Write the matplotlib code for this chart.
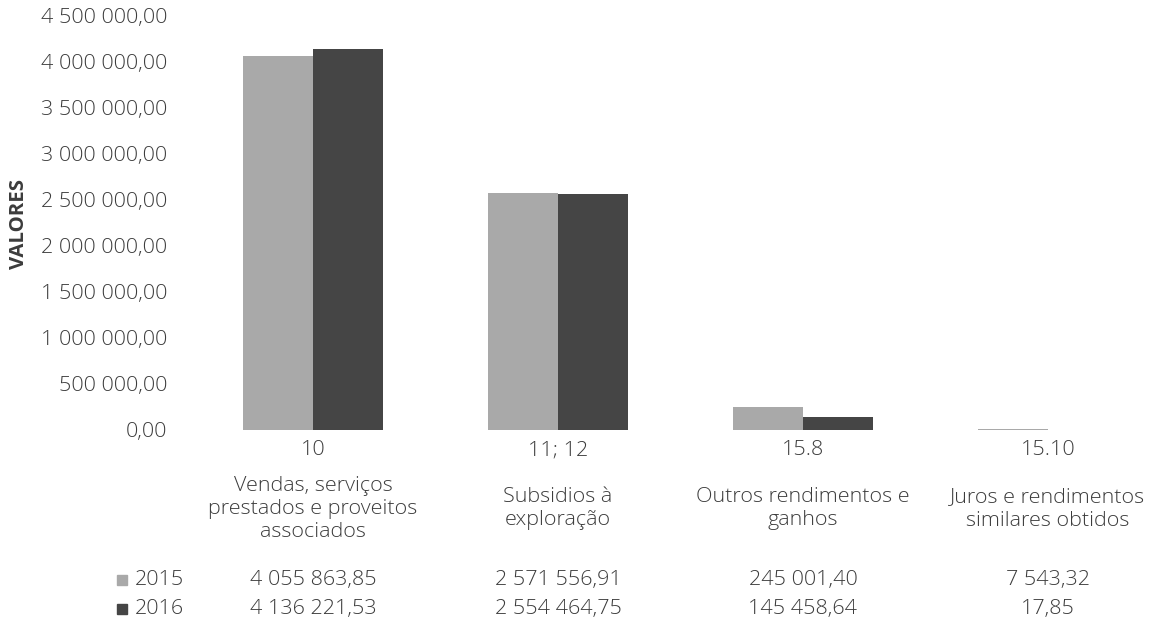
import matplotlib
matplotlib.use("Agg")
import matplotlib.pyplot as plt
import numpy as np
from matplotlib.patches import Rectangle

codes = ["10", "11; 12", "15.8", "15.10"]
descriptions = [
    "Vendas, serviços\nprestados e proveitos\nassociados",
    "Subsidios à\nexploração",
    "Outros rendimentos e\nganhos",
    "Juros e rendimentos\nsimilares obtidos",
]
series_names = ["2015", "2016"]
values_2015 = [4055863.85, 2571556.91, 245001.40, 7543.32]
values_2016 = [4136221.53, 2554464.75, 145458.64, 17.85]
y_ticks = [0, 500000, 1000000, 1500000, 2000000, 2500000, 3000000, 3500000, 4000000, 4500000]

colors = ["#a9a9a9", "#454545"]
text_color = "#3c3c3c"
plt.rcParams["font.family"] = ["Open Sans", "DejaVu Sans"]

W, H = 1156, 634


def fmt(v):
    s = f"{v:,.2f}"
    return s.replace(",", " ").replace(".", ",")


fig = plt.figure(figsize=(W / 100, H / 100), dpi=100)
renderer = fig.canvas.get_renderer()

# pick a font size so that a wide description line spans about 208 px
probe = fig.text(0, 0, "prestados e proveitos", fontsize=10, fontweight="light")
w10 = probe.get_window_extent(renderer).width
probe.remove()
FS = 10 * 208 / w10

# category pitch 245 px, first category centred at x = 313 px
pitch = 245.0
left_px = 313 - pitch / 2
ax = fig.add_axes([left_px / W, (H - 430) / H, (W - left_px) / W, 415 / H])

x = np.arange(len(codes))
bw = 70 / pitch
ax.bar(x - bw / 2, values_2015, width=bw, color=colors[0], linewidth=0)
ax.bar(x + bw / 2, values_2016, width=bw, color=colors[1], linewidth=0)

ax.set_xlim(-0.5, -0.5 + (W - left_px) / pitch)
ax.set_ylim(0, 4500000)
ax.set_yticks(y_ticks)
ax.set_yticklabels([fmt(v) for v in y_ticks], fontsize=FS, color=text_color,
                   fontweight="light")
ax.set_xticks(x)
ax.set_xticklabels(codes, fontsize=FS, color=text_color, fontweight="light")
ax.tick_params(axis="y", length=0, pad=(left_px - 167) * 0.72)
ax.tick_params(axis="x", length=0, pad=7.5)
for s in ax.spines.values():
    s.set_visible(False)

fig.text(19 / W, 1 - 224 / H, "VALORES", rotation=90, ha="center", va="center",
         fontsize=FS * 0.95, fontweight="bold", color=text_color)

# data table under the axis
desc_y = 1 - 509 / H
row_y = [1 - 580 / H, 1 - 609 / H]
for i, d in enumerate(descriptions):
    xf = (left_px + (x[i] + 0.5) * pitch) / W
    fig.text(xf, desc_y, d, ha="center", va="center", fontsize=FS,
             color=text_color, linespacing=1.2, fontweight="light")
    for r, vals in enumerate([values_2015, values_2016]):
        fig.text(xf, row_y[r], fmt(vals[i]), ha="center", va="center",
                 fontsize=FS, color=text_color, fontweight="light")

for r, name in enumerate(series_names):
    fig.patches.append(Rectangle((117 / W, row_y[r] - 5 / H), 10 / W, 10 / H,
                                 transform=fig.transFigure, color=colors[r],
                                 figure=fig))
    fig.text(135 / W, row_y[r], name, ha="left", va="center",
             fontsize=FS, color=text_color, fontweight="light")

fig.savefig("out.png", dpi=100, facecolor="white")
